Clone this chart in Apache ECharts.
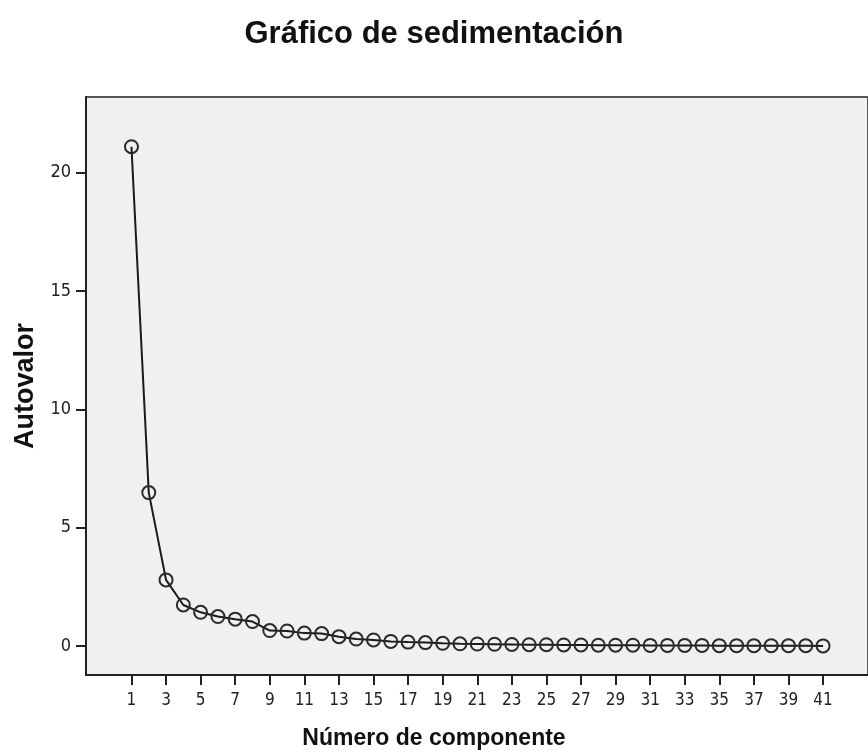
<!DOCTYPE html>
<html>
<head>
<meta charset="utf-8">
<script src="https://cdn.jsdelivr.net/npm/echarts@6/dist/echarts.min.js"></script>
<style>
  html, body { margin: 0; padding: 0; background: #fff; }
  #main { width: 868px; height: 756px; }
</style>
</head>
<body>
<div id="main"></div>
<script>
// componentes y autovalores
var componentes = [];
for (var i = 1; i <= 41; i++) componentes.push(i);
var autovalores = [
  21.1, 6.48, 2.79, 1.73, 1.42, 1.24, 1.13, 1.03, 0.65, 0.63,
  0.54, 0.52, 0.39, 0.29, 0.25, 0.19, 0.16, 0.14, 0.11, 0.09,
  0.08, 0.07, 0.06, 0.05, 0.05, 0.04, 0.04, 0.03, 0.03, 0.03,
  0.02, 0.02, 0.02, 0.02, 0.01, 0.01, 0.01, 0.01, 0.01, 0.01, 0.00
];
var xTicks = [1,3,5,7,9,11,13,15,17,19,21,23,25,27,29,31,33,35,37,39,41];
var yTicks = [0, 5, 10, 15, 20];

var chart = echarts.init(document.getElementById('main'));
var fuente = "'DejaVu Sans Condensed', 'Liberation Sans Narrow', 'Liberation Sans', sans-serif";

var option = {
  animation: false,
  title: [{
    text: 'Gráfico de sedimentación',
    left: 'center',
    top: 14,
    textStyle: { fontFamily: 'Liberation Sans', fontSize: 31, fontWeight: 'bold', color: '#111' }
  }, {
    text: 'Número de componente',
    left: 'center',
    top: 722,
    textStyle: { fontFamily: 'Liberation Sans', fontSize: 23, fontWeight: 'bold', color: '#111' }
  }],
  grid: {
    left: 86, top: 97, right: -8, bottom: 81,
    show: true,
    backgroundColor: '#f0f0f0',
    borderColor: '#555',
    borderWidth: 2
  },
  xAxis: {
    type: 'value',
    min: -1.63,
    max: 43.6,
    axisLine: { show: true, onZero: false, lineStyle: { color: '#222', width: 2 } },
    axisTick: { show: true, length: 10, customValues: xTicks, lineStyle: { color: '#222', width: 2 } },
    axisLabel: { customValues: xTicks, color: '#222', fontFamily: fuente, fontSize: 17, margin: 17 },
    splitLine: { show: false }
  },
  yAxis: {
    type: 'value',
    min: -1.23,
    max: 23.2,
    name: 'Autovalor',
    nameLocation: 'middle',
    nameGap: 46,
    nameRotate: 90,
    nameTextStyle: { fontFamily: 'Liberation Sans', fontSize: 27, fontWeight: 'bold', color: '#111' },
    axisLine: { show: true, onZero: false, lineStyle: { color: '#222', width: 2 } },
    axisTick: { show: true, length: 10, customValues: yTicks, lineStyle: { color: '#222', width: 2 } },
    axisLabel: { customValues: yTicks, color: '#222', fontFamily: fuente, fontSize: 18, margin: 15 },
    splitLine: { show: false }
  },
  series: [{
    type: 'line',
    data: componentes.map(function (c, i) { return [c, autovalores[i]]; }),
    symbol: 'circle',
    symbolSize: 13,
    lineStyle: { color: '#1a1a1a', width: 2 },
    itemStyle: { color: 'rgba(0,0,0,0)', borderColor: '#2a2a2a', borderWidth: 2 }
  }]
};

chart.setOption(option);
</script>
</body>
</html>
